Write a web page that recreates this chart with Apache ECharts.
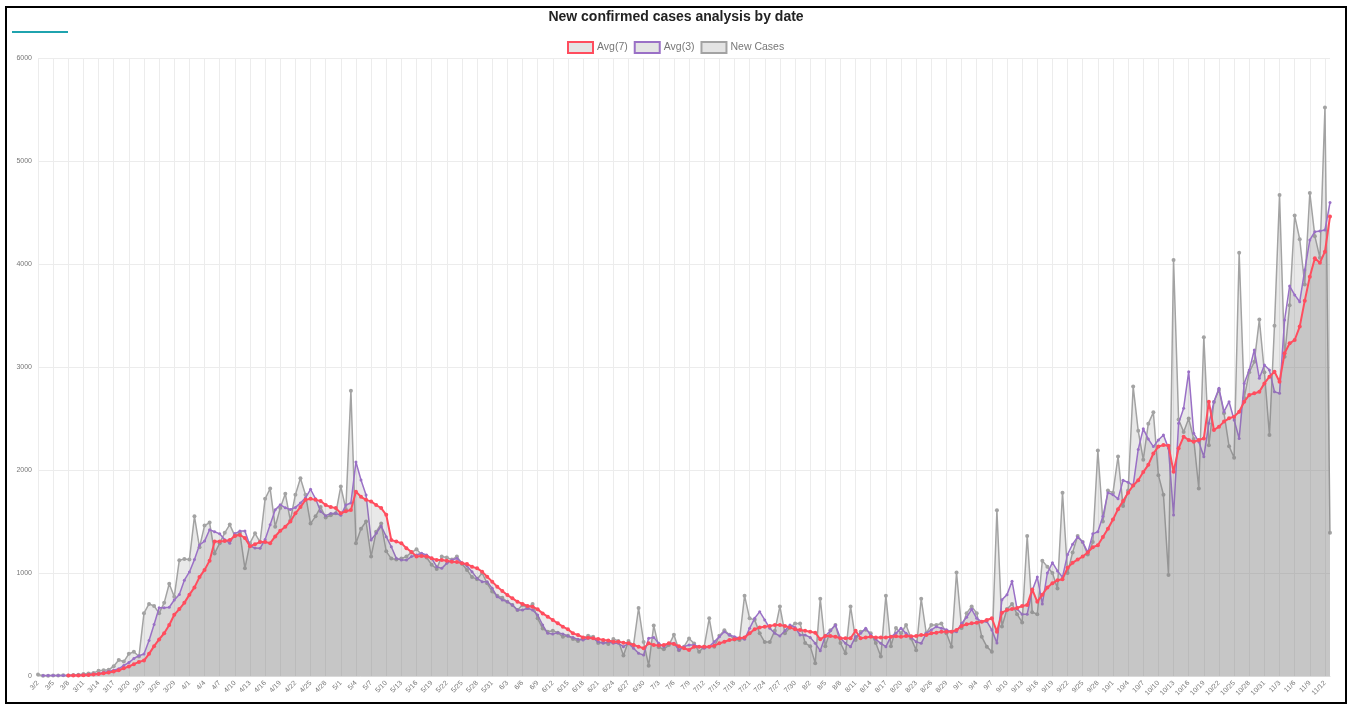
<!DOCTYPE html>
<html>
<head>
<meta charset="utf-8">
<script src="https://cdn.jsdelivr.net/npm/echarts@6/dist/echarts.min.js"></script>
<style>
html,body{margin:0;padding:0;background:#fff;}
#chart{width:1352px;height:705px;}
</style>
</head>
<body>
<div id="chart"></div>
<script>
// ---- data ----
const startMonth = 3, startDay = 2; // categories run daily from 3/2 to 11/13
const monthLengths = [31,28,31,30,31,30,31,31,30,31,30,31];
const dates = [];
(function(){ let m = startMonth, d = startDay; for (let i = 0; i < 257; i++) { dates.push(m + '/' + d); d++; if (d > monthLengths[m-1]) { d = 1; m++; } } })();

const newCases = [
15,2,3,5,4,8,6,10,12,20,
25,30,50,55,60,95,155,140,215,235,
190,610,700,680,610,710,895,770,1125,1135,
1130,1550,1250,1460,1490,1190,1290,1390,1470,1360,
1390,1045,1290,1385,1300,1720,1820,1450,1630,1770,
1510,1760,1920,1760,1480,1550,1640,1540,1560,1580,
1840,1620,2770,1290,1430,1500,1160,1400,1480,1210,
1140,1130,1140,1160,1200,1230,1180,1150,1080,1040,
1160,1150,1130,1160,1090,1030,960,940,1000,900,
820,780,760,720,690,640,690,660,700,560,
460,430,440,420,380,390,360,340,370,390,
380,320,330,310,360,340,200,340,300,660,
330,100,490,280,260,300,400,250,285,365,
315,235,285,560,285,390,445,400,355,350,
780,560,545,415,330,330,440,675,415,470,
510,510,320,290,125,750,290,445,495,320,
220,675,350,430,450,415,320,190,780,290,
465,415,495,365,250,750,415,495,495,510,
415,285,1005,465,610,675,610,380,285,235,
1610,480,650,700,600,520,1360,620,600,1120,
1060,1000,850,1780,1000,1200,1360,1300,1180,1300,
2190,1500,1800,1780,2130,1650,1800,2810,2380,2100,
2450,2560,1950,1760,980,4040,2490,2370,2500,2300,
1820,3290,2240,2660,2780,2550,2230,2120,4110,2700,
2950,3050,3460,2950,2340,3400,4670,3100,3600,4470,
4240,3800,4690,4270,4060,5520,1390
];

const avg3 = [
null,5,6,6,4,5,6,8,9,13,
14,19,25,35,45,55,70,103,130,170,
197,213,345,500,663,663,667,738,792,930,
1010,1130,1272,1310,1420,1400,1380,1323,1290,1383,
1407,1407,1265,1242,1240,1325,1468,1613,1663,1633,
1617,1637,1680,1730,1813,1720,1597,1557,1577,1580,
1560,1660,1680,2077,1903,1757,1320,1385,1456,1353,
1255,1142,1126,1126,1159,1175,1191,1175,1142,1061,
1045,1094,1126,1142,1100,1068,1013,948,916,916,
851,770,738,722,689,641,641,657,641,592,
495,414,408,421,408,388,375,356,350,366,
366,333,317,333,317,317,285,317,269,220,
204,366,375,317,285,317,317,252,285,301,
301,285,269,285,333,382,430,398,382,366,
356,463,560,625,544,463,414,388,440,495,
472,398,398,375,317,246,388,440,495,366,
317,285,382,414,463,398,356,317,285,382,
414,463,414,375,333,317,414,447,479,463,
450,430,430,511,570,647,560,527,530,447,
320,740,790,920,650,600,600,830,960,700,
1000,1100,1020,960,1180,1280,1350,1300,1200,1380,
1400,1550,1780,1760,1720,1900,1880,1850,2200,2400,
2300,2227,2291,2340,2210,1563,2453,2600,2955,2356,
2275,2129,2453,2663,2793,2566,2663,2485,2307,2841,
2970,3165,2890,3020,2970,2760,2744,3456,3786,3700,
3634,3942,4233,4314,4320,4330,4596
];

const avg7 = [
null,null,null,null,null,null,5,5,6,8,
10,14,19,26,34,44,55,75,92,115,
137,150,215,290,355,415,495,595,650,710,
790,860,960,1030,1120,1305,1305,1310,1320,1360,
1370,1340,1260,1280,1300,1300,1290,1355,1410,1450,
1500,1580,1640,1710,1720,1710,1700,1660,1640,1630,
1580,1600,1612,1790,1740,1710,1695,1660,1630,1565,
1320,1305,1290,1240,1205,1160,1165,1160,1142,1126,
1126,1118,1110,1108,1094,1087,1061,1045,1013,964,
916,867,825,786,754,722,699,680,673,647,
608,576,544,511,479,453,414,398,375,372,
366,360,350,345,333,333,324,318,301,285,
269,317,301,295,301,317,310,290,269,252,
285,285,285,285,294,317,333,350,356,366,
375,414,453,472,479,485,495,495,485,472,
453,447,440,430,421,356,388,388,382,366,
366,366,440,366,375,380,375,375,375,382,
385,382,388,385,388,398,398,414,421,430,
430,430,447,485,502,511,518,527,544,560,
430,615,640,650,660,680,690,840,720,790,
860,900,930,940,1050,1100,1130,1160,1200,1250,
1270,1350,1430,1520,1620,1700,1780,1850,1900,1980,
2050,2160,2227,2243,2235,1984,2210,2324,2291,2275,
2291,2307,2663,2388,2421,2470,2502,2518,2566,2663,
2728,2744,2760,2841,2906,2955,2857,3133,3230,3262,
3392,3644,3877,4055,4013,4120,4460
];

const yTicks = { min: 0, max: 6000, interval: 1000 };

// ---- chart ----
const chart = echarts.init(document.getElementById('chart'), null, { renderer: 'canvas' });
const fillColor = 'rgba(120,120,120,0.23)';
const RED = '#ff4d5e', PURPLE = '#9a70c6', GRAY = '#a3a3a3';
const FONT = 'Liberation Sans, Arial, sans-serif';

function mkSeries(name, data, color, z, width, sym) {
  return {
    name: name, type: 'line', data: data, z: z,
    symbol: 'circle', symbolSize: sym, showSymbol: true, showAllSymbol: true,
    connectNulls: false,
    lineStyle: { color: color, width: width },
    itemStyle: { color: color, borderColor: color, borderWidth: 0 },
    areaStyle: { color: fillColor, origin: 'start' },
    emphasis: { disabled: true },
    animation: false
  };
}

chart.setOption({
  animation: false,
  backgroundColor: '#fff',
  title: {
    text: 'New confirmed cases analysis by date',
    left: 'center', top: 10, padding: 0,
    textStyle: { fontFamily: FONT, fontSize: 14, fontWeight: 'bold', color: '#222' }
  },
  legend: {
    top: 41, left: 567, itemWidth: 25, itemHeight: 11, itemGap: 6, padding: 0,
    icon: 'rect',
    textStyle: { fontFamily: FONT, fontSize: 10.5, color: '#777', padding: [0,0,0,-1] },
    data: [
      { name: 'Avg(7)', itemStyle: { color: '#e4e4e4', borderColor: RED, borderWidth: 2 } },
      { name: 'Avg(3)', itemStyle: { color: '#e4e4e4', borderColor: PURPLE, borderWidth: 2 } },
      { name: 'New Cases', itemStyle: { color: '#e4e4e4', borderColor: GRAY, borderWidth: 2 } }
    ]
  },
  grid: { left: 38, right: 22, top: 58, bottom: 29, containLabel: false },
  xAxis: {
    type: 'category', data: dates, boundaryGap: false,
    axisLine: { show: true, lineStyle: { color: '#d9d9d9' } },
    axisTick: { show: false },
    axisLabel: { interval: 2, rotate: 45, fontSize: 7, color: '#777', margin: 6, fontFamily: FONT },
    splitLine: { show: true, interval: 2, lineStyle: { color: '#ececec', width: 1 } }
  },
  yAxis: {
    type: 'value', min: yTicks.min, max: yTicks.max, interval: yTicks.interval,
    axisLine: { show: false }, axisTick: { show: false },
    axisLabel: { fontSize: 7, color: '#777', margin: 6, fontFamily: FONT, formatter: function (v) { return String(v); } },
    splitLine: { show: true, lineStyle: { color: '#ececec', width: 1 } }
  },
  graphic: [
    { type: 'rect', shape: { x: 6, y: 7, width: 1340, height: 696 }, style: { fill: 'none', stroke: '#000', lineWidth: 2 }, silent: true, z: 100 },
    { type: 'line', shape: { x1: 12, y1: 32, x2: 68, y2: 32 }, style: { stroke: '#1fa3ae', lineWidth: 2 }, silent: true, z: 100 }
  ],
  series: [
    mkSeries('Avg(7)', avg7, RED, 5, 2, 4),
    mkSeries('Avg(3)', avg3, PURPLE, 4, 1.5, 3),
    mkSeries('New Cases', newCases, GRAY, 3, 1.5, 4)
  ]
});
</script>
</body>
</html>
